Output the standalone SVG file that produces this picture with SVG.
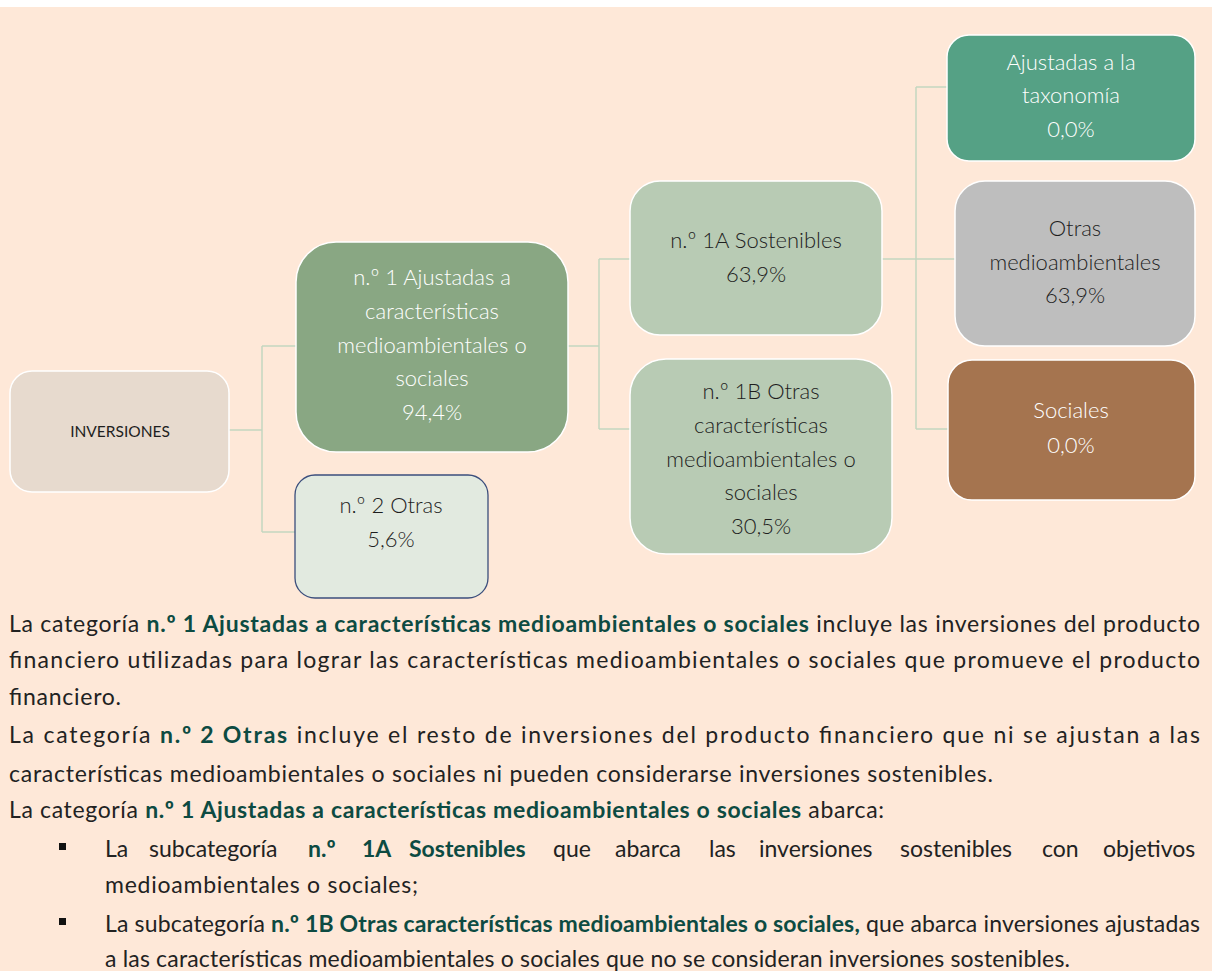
<svg xmlns="http://www.w3.org/2000/svg" width="1217" height="971" viewBox="0 0 1217 971">
<style>
.nt{font-family:Lato,"Open Sans","Liberation Sans",sans-serif;font-size:22px;font-weight:300;text-anchor:middle}
.w{fill:#ffffff}.d{fill:#1e1e1e}
.bx{stroke:#ffffff;stroke-width:1.5}
.cn{fill:none;stroke:#c4d6c0;stroke-width:1.5}
.p{font-family:Lato,"Open Sans","Liberation Sans",sans-serif;font-size:23px;fill:#222222}
.b{fill:#0d4b42;font-weight:bold}
</style>
<rect x="0" y="0" width="1217" height="971" fill="#ffffff"/>
<rect x="0" y="7" width="1212" height="964" fill="#fee8d8"/>
<g id="connectors">
<path class="cn" d="M229 430H262M262 346V532M262 346H296M262 532H295"/>
<path class="cn" d="M568 346H599M599 259V429M599 259H630M599 429H630"/>
<path class="cn" d="M882 259H955M916 87V429M916 87H947M916 429H948"/>
</g>
<g id="inversiones">
<rect class="bx" x="10" y="371" width="219" height="121" rx="22" fill="#e7dace"/>
<text class="nt d" x="120" y="437" style="font-size:15.5px;font-weight:400">INVERSIONES</text>
</g>
<g id="n1">
<rect class="bx" x="296" y="242" width="272" height="210" rx="40" fill="#89a783"/>
<text class="nt w" x="432"><tspan x="432" y="285">n.º 1 Ajustadas a</tspan><tspan x="432" y="319">características</tspan><tspan x="432" y="353">medioambientales o</tspan><tspan x="432" y="386">sociales</tspan><tspan x="432" y="420">94,4%</tspan></text>
</g>
<g id="n2">
<rect x="295" y="475" width="193" height="123" rx="20" fill="#e2eae0" stroke="#3b4e7c" stroke-width="1.3"/>
<text class="nt d" x="391"><tspan x="391" y="513">n.º 2 Otras</tspan><tspan x="391" y="547">5,6%</tspan></text>
</g>
<g id="n1a">
<rect class="bx" x="630" y="181" width="252" height="154" rx="30" fill="#b8cbb4"/>
<text class="nt d" x="756"><tspan x="756" y="248">n.º 1A Sostenibles</tspan><tspan x="756" y="282">63,9%</tspan></text>
</g>
<g id="n1b">
<rect class="bx" x="630" y="359" width="262" height="195" rx="36" fill="#b8cbb4"/>
<text class="nt d" x="761"><tspan x="761" y="399">n.º 1B Otras</tspan><tspan x="761" y="433">características</tspan><tspan x="761" y="467">medioambientales o</tspan><tspan x="761" y="500">sociales</tspan><tspan x="761" y="534">30,5%</tspan></text>
</g>
<g id="taxonomia">
<rect class="bx" x="947" y="35" width="248" height="126" rx="22" fill="#55a185"/>
<text class="nt w" x="1071"><tspan x="1071" y="70">Ajustadas a la</tspan><tspan x="1071" y="103">taxonomía</tspan><tspan x="1071" y="137">0,0%</tspan></text>
</g>
<g id="otras">
<rect class="bx" x="955" y="181" width="240" height="165" rx="30" fill="#bebebe"/>
<text class="nt d" x="1075"><tspan x="1075" y="236">Otras</tspan><tspan x="1075" y="270">medioambientales</tspan><tspan x="1075" y="303">63,9%</tspan></text>
</g>
<g id="sociales">
<rect class="bx" x="948" y="360" width="247" height="140" rx="24" fill="#a5744f"/>
<text class="nt w" x="1071"><tspan x="1071" y="418">Sociales</tspan><tspan x="1071" y="453">0,0%</tspan></text>
</g>
<g id="texto">
<text class="p" x="9" y="632" textLength="1191" lengthAdjust="spacing">La categoría <tspan class="b">n.º 1 Ajustadas a características medioambientales o sociales</tspan> incluye las inversiones del producto</text>
<text class="p" x="9" y="668" textLength="1191" lengthAdjust="spacing">financiero utilizadas para lograr las características medioambientales o sociales que promueve el producto</text>
<text class="p" x="9" y="705" textLength="112" lengthAdjust="spacing">financiero.</text>
<text class="p" x="9" y="743" textLength="1191" lengthAdjust="spacing">La categoría <tspan class="b">n.º 2 Otras</tspan> incluye el resto de inversiones del producto financiero que ni se ajustan a las</text>
<text class="p" x="9" y="782" textLength="984" lengthAdjust="spacing">características medioambientales o sociales ni pueden considerarse inversiones sostenibles.</text>
<text class="p" x="9" y="818" textLength="875" lengthAdjust="spacing">La categoría <tspan class="b">n.º 1 Ajustadas a características medioambientales o sociales</tspan> abarca:</text>
<rect x="59" y="843" width="7" height="7" fill="#111111"/>
<text class="p" y="857"><tspan x="105">La</tspan><tspan x="149">subcategoría</tspan><tspan class="b" x="308">n.º</tspan><tspan class="b" x="362">1A</tspan><tspan class="b" x="409">Sostenibles</tspan><tspan x="553">que</tspan><tspan x="615">abarca</tspan><tspan x="709">las</tspan><tspan x="759">inversiones</tspan><tspan x="900">sostenibles</tspan><tspan x="1042">con</tspan><tspan x="1103">objetivos</tspan></text>
<text class="p" x="105" y="893" textLength="313" lengthAdjust="spacing">medioambientales o sociales;</text>
<rect x="59" y="918" width="7" height="7" fill="#111111"/>
<text class="p" x="105" y="932" textLength="1095" lengthAdjust="spacing">La subcategoría <tspan class="b">n.º 1B Otras características medioambientales o sociales,</tspan> que abarca inversiones ajustadas</text>
<text class="p" x="105" y="967" textLength="965" lengthAdjust="spacing">a las características medioambientales o sociales que no se consideran inversiones sostenibles.</text>
</g>
</svg>
